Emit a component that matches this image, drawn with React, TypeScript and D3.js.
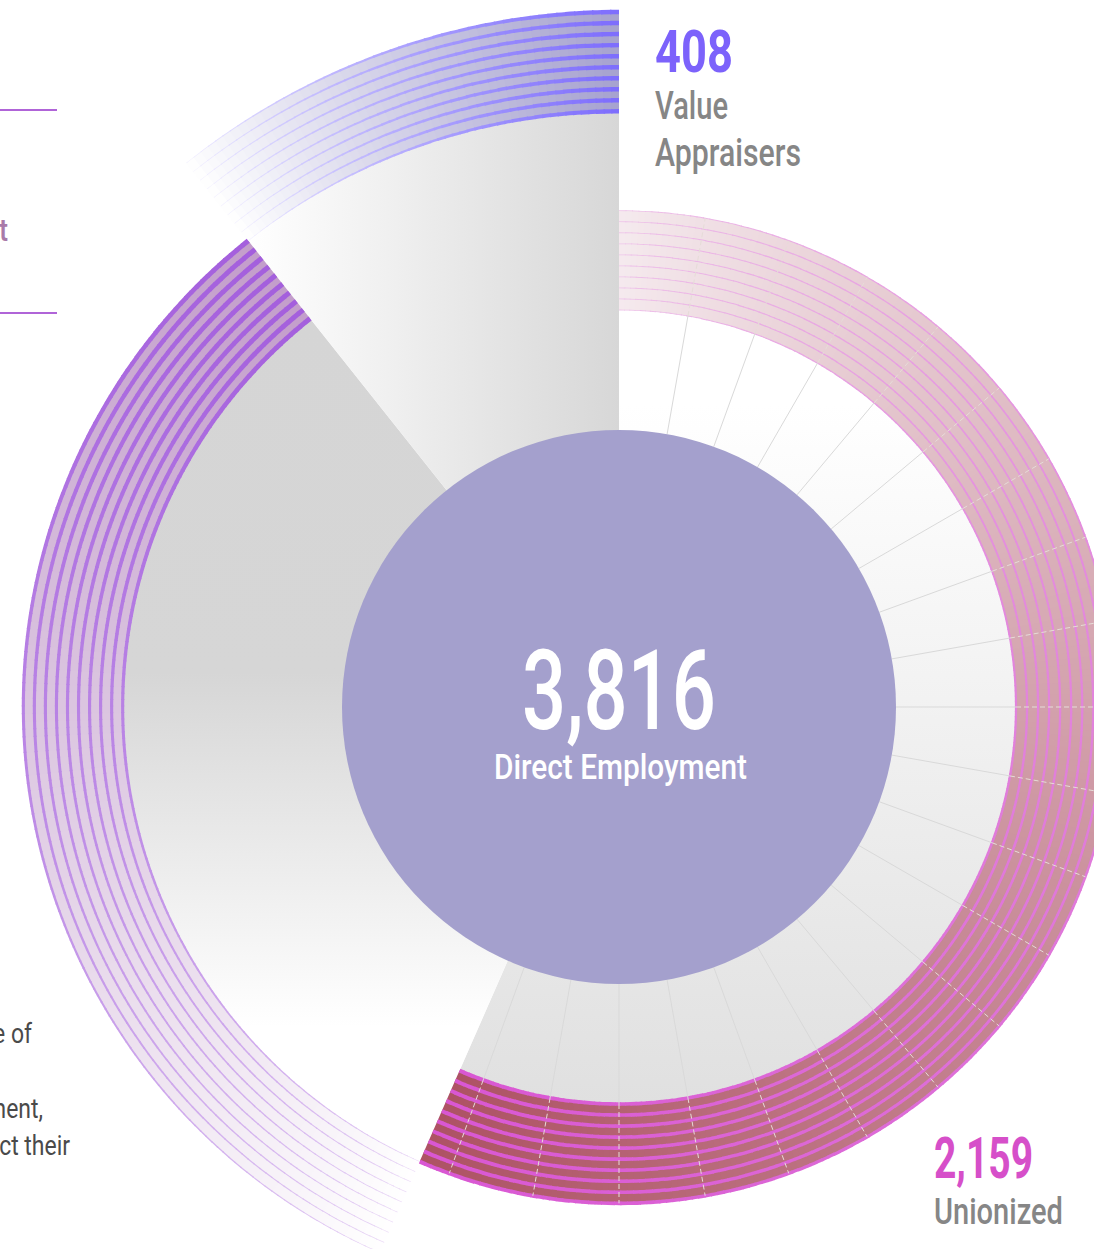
import React from "react";
import * as d3 from "d3";

// Data
const segmentNames = ["Unionized", "Other Direct Employment", "Value Appraisers"];
const segmentValues = [2159, 1249, 408];
const totalValue = 3816;
const totalCaption = "Direct Employment";
const stripeCount = 10;
const spokeStepDeg = 10;
const noteLines = ["a wide range of", "employment,", "impact their"];

// Styles per segment (same order as segmentValues)
const segmentStyles = [
  { line: "#d957d3", lineFade: "#efc9ea", fill: "#ad5264", fillFade: "#f5eaee", wMin: 0.8, wMax: 4, colorPow: 0.6 },
  { line: "#a45fdd", lineFade: "#efe2f8", fill: "#c39ecb", fillFade: "#ffffff", wMin: 0.7, wMax: 5, colorPow: 0.55 },
  { line: "#7d6dfd", lineFade: "#f4f2ff", fill: "#a6a2cf", fillFade: "#ffffff", wMin: 0.5, wMax: 4.5, colorPow: 0.8 },
];

const width = 1094;
const height = 1249;
const cx = 619;
const cy = 707;
const coreR = 277;

export default function App() {
  const ring = d3.scaleLinear().domain([0, 3]).range([397, 695]);
  const slices = d3.pie<number>().sort(null).value((d) => d)(segmentValues);
  const arcGen = d3.arc<any>();
  const fmt = d3.format(",");

  const wedgeFill = ["url(#wedge0)", "url(#wedge1)", "url(#wedge2)"];

  const fills: JSX.Element[] = [];
  const lines: JSX.Element[] = [];
  slices.forEach((s, i) => {
    const st = segmentStyles[i];
    const inner = ring(i);
    const outer = ring(i + 1);
    const a0 = s.startAngle;
    const a1 = s.endAngle;
    const n = Math.ceil((a1 - a0) / (Math.PI / 240));
    const step = (a1 - a0) / n;
    const radii = d3.range(stripeCount).map((k) => inner + ((outer - inner) * k) / (stripeCount - 1));
    const fillCol = d3.interpolateRgb(st.fillFade, st.fill);
    const lineCol = d3.interpolateRgb(st.lineFade, st.line);
    for (let j = 0; j < n; j++) {
      const sa = a0 + j * step;
      const ea = Math.min(a1, sa + step + 0.002);
      const t = (j + 0.5) / n;
      fills.push(
        <path
          key={`f${i}-${j}`}
          d={arcGen({ innerRadius: inner, outerRadius: outer, startAngle: sa, endAngle: ea }) || ""}
          fill={fillCol(Math.pow(t, 0.9))}
        />
      );
      const w = st.wMin + (st.wMax - st.wMin) * t;
      const c = lineCol(Math.pow(t, st.colorPow));
      radii.forEach((r, k) => {
        lines.push(
          <path
            key={`l${i}-${j}-${k}`}
            d={arcGen({ innerRadius: r - w / 2, outerRadius: r + w / 2, startAngle: sa, endAngle: ea }) || ""}
            fill={c}
          />
        );
      });
    }
  });

  // spokes across the Unionized segment
  const uni = slices[0];
  const spokeAngles = d3
    .range(spokeStepDeg, (uni.endAngle * 180) / Math.PI, spokeStepDeg)
    .map((d) => (d * Math.PI) / 180);
  const pt = (a: number, r: number) => [Math.sin(a) * r, -Math.cos(a) * r];

  return (
    <svg width={width} height={height} style={{ position: "absolute", left: 0, top: 0, display: "block" }}>
      <defs>
        <linearGradient id="wedge0" x1="0" y1="0" x2="0" y2="1">
          <stop offset="0" stopColor="#ffffff" />
          <stop offset="0.12" stopColor="#ffffff" />
          <stop offset="1" stopColor="#e0e0e0" />
        </linearGradient>
        <linearGradient id="wedge1" x1="0" y1="0" x2="0" y2="1">
          <stop offset="0" stopColor="#d5d5d5" />
          <stop offset="0.42" stopColor="#d6d6d6" />
          <stop offset="0.84" stopColor="#ffffff" />
        </linearGradient>
        <linearGradient id="wedge2" x1="0" y1="0" x2="1" y2="0">
          <stop offset="0" stopColor="#ffffff" />
          <stop offset="1" stopColor="#d7d7d7" />
        </linearGradient>
      </defs>

      {/* cut-off side panel */}
      <line x1={0} x2={57} y1={110} y2={110} stroke="#b064d8" strokeWidth={2} />
      <line x1={0} x2={57} y1={313} y2={313} stroke="#b064d8" strokeWidth={2} />
      <g transform="translate(8,241) scale(0.85,1)">
        <text textAnchor="end" fontFamily="Roboto" fontWeight={500} fontSize={32} fill="#a97aa9">
          Employment
        </text>
      </g>
      {noteLines.map((l, i) => (
        <g key={l} transform={`translate(${[32, 43, 70][i]},${[1043, 1118, 1155][i]}) scale(0.85,1)`}>
          <text textAnchor="end" fontFamily="Roboto" fontWeight={400} fontSize={27} fill="#4a4a4a">
            {l}
          </text>
        </g>
      ))}

      <g transform={`translate(${cx},${cy})`}>
        {slices.map((s, i) => (
          <path
            key={segmentNames[i]}
            d={arcGen({ innerRadius: 0, outerRadius: ring(i), startAngle: s.startAngle, endAngle: s.endAngle }) || ""}
            fill={wedgeFill[i]}
          />
        ))}
        {fills}
        {lines}
        {spokeAngles.map((a, i) => {
          const [x0, y0] = pt(a, coreR);
          const [x1, y1] = pt(a, ring(0));
          const [x2, y2] = pt(a, ring(1));
          return (
            <g key={`s${i}`}>
              <line x1={x0} y1={y0} x2={x1} y2={y1} stroke="#d9d9d9" strokeWidth={1} />
              <line x1={x1} y1={y1} x2={x2} y2={y2} stroke="#e6dcd8" strokeWidth={1} strokeDasharray="5 3" />
            </g>
          );
        })}
        <circle r={coreR} fill="#a4a0cd" />
        <text
          x={-97}
          y={22}
          textLength={194}
          lengthAdjust="spacingAndGlyphs"
          fontFamily="Roboto"
          fontWeight={500}
          fontSize={112}
          fill="#ffffff"
        >
          {fmt(totalValue)}
        </text>
        <text
          x={-125}
          y={72}
          textLength={253}
          lengthAdjust="spacingAndGlyphs"
          fontFamily="Roboto"
          fontWeight={500}
          fontSize={35}
          fill="#ffffff"
        >
          {totalCaption}
        </text>
      </g>

      {/* Value Appraisers label */}
      <text x={655} y={72} textLength={78} lengthAdjust="spacingAndGlyphs" fontFamily="Roboto" fontWeight={700} fontSize={59} fill="#7c62fb">
        {fmt(segmentValues[2])}
      </text>
      <text x={655} y={119} textLength={73} lengthAdjust="spacingAndGlyphs" fontFamily="Roboto" fontWeight={500} fontSize={38} fill="#868686">
        Value
      </text>
      <text x={655} y={166} textLength={146} lengthAdjust="spacingAndGlyphs" fontFamily="Roboto" fontWeight={500} fontSize={38} fill="#868686">
        Appraisers
      </text>

      {/* Unionized label */}
      <text x={934} y={1178} textLength={99} lengthAdjust="spacingAndGlyphs" fontFamily="Roboto" fontWeight={700} fontSize={58} fill="#d64fc9">
        {fmt(segmentValues[0])}
      </text>
      <text x={934} y={1224} textLength={129} lengthAdjust="spacingAndGlyphs" fontFamily="Roboto" fontWeight={500} fontSize={37} fill="#868686">
        {segmentNames[0]}
      </text>
    </svg>
  );
}
